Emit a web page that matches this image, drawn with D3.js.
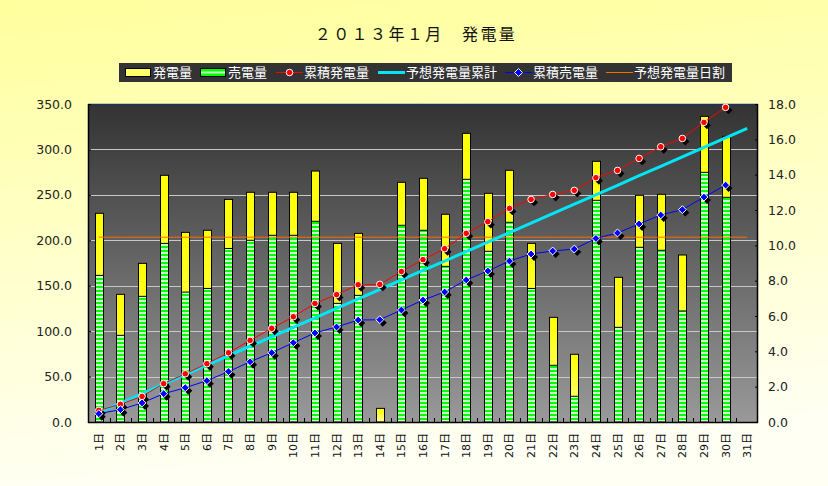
<!DOCTYPE html>
<html>
<head>
<meta charset="utf-8">
<script src="https://cdn.jsdelivr.net/npm/d3@7"></script>
<style>
  body { margin: 0; }
  svg { display: block; }
</style>
</head>
<body>
<div id="chart"></div>
<script>
// day labels
var days = ["1日","2日","3日","4日","5日","6日","7日","8日","9日","10日",
            "11日","12日","13日","14日","15日","16日","17日","18日","19日","20日",
            "21日","22日","23日","24日","25日","26日","27日","28日","29日","30日","31日"];

// 発電量 (left axis)
var generation = [229.7, 140.5, 174.6, 271.5, 208.7, 211.0, 245.0, 252.8, 252.8, 252.8,
                  276.2, 196.6, 207.6, 15.0, 263.8, 268.2, 228.6, 317.7, 251.7, 277.0,
                  196.6, 115.2, 74.5, 286.9, 159.2, 249.5, 250.6, 183.8, 336.4, 314.4, null];

// 売電量 (left axis)
var sold = [161.4, 95.4, 138.3, 196.6, 143.0, 147.0, 191.0, 200.0, 205.5, 205.5,
            220.9, 130.6, 139.4, 0, 216.5, 211.0, 171.3, 267.1, 187.9, 219.8,
            147.0, 62.4, 28.3, 244.0, 104.2, 192.3, 189.0, 122.2, 274.8, 247.3, null];

// 累積発電量 (right axis)
var cumGeneration = [0.66, 1.00, 1.45, 2.17, 2.73, 3.30, 3.92, 4.62, 5.30, 5.96,
                     6.71, 7.21, 7.77, 7.79, 8.52, 9.19, 9.81, 10.68, 11.34, 12.09,
                     12.60, 12.88, 13.11, 13.83, 14.24, 14.92, 15.58, 16.05, 16.96, 17.81, null];

// 累積売電量 (right axis)
var cumSold = [0.47, 0.70, 1.08, 1.60, 1.94, 2.34, 2.85, 3.41, 3.92, 4.49,
               5.04, 5.38, 5.77, 5.79, 6.34, 6.90, 7.36, 8.04, 8.55, 9.11,
               9.51, 9.68, 9.79, 10.39, 10.70, 11.21, 11.72, 12.02, 12.73, 13.41, null];

// 予想発電量累計 (right axis)
var expectedCum = [0.54, 1.07, 1.61, 2.14, 2.68, 3.22, 3.75, 4.29, 4.82, 5.36,
                   5.90, 6.43, 6.97, 7.50, 8.04, 8.58, 9.11, 9.65, 10.18, 10.72,
                   11.26, 11.79, 12.33, 12.86, 13.40, 13.94, 14.47, 15.01, 15.54, 16.08, 16.62];

// 予想発電量日割 (left axis)
var expectedDaily = [203.4, 203.4, 203.4, 203.4, 203.4, 203.4, 203.4, 203.4, 203.4, 203.4,
                     203.4, 203.4, 203.4, 203.4, 203.4, 203.4, 203.4, 203.4, 203.4, 203.4,
                     203.4, 203.4, 203.4, 203.4, 203.4, 203.4, 203.4, 203.4, 203.4, 203.4, 203.4];

var leftTicks = [0, 50, 100, 150, 200, 250, 300, 350];
var rightTicks = [0, 2, 4, 6, 8, 10, 12, 14, 16, 18];

var legendNames = ["発電量", "売電量", "累積発電量", "予想発電量累計", "累積売電量", "予想発電量日割"];

function init(){
    var w = 828, h = 486;
    var plot = {left: 88, right: 758, top: 104, bottom: 422};

    var svg = d3.select("#chart").append("svg")
        .attr("width", w)
        .attr("height", h);

    var defs = svg.append("defs");

    // page background
    var bg = defs.append("linearGradient").attr("id", "bgGrad")
        .attr("x1", 0).attr("y1", 0).attr("x2", 0.15).attr("y2", 1);
    bg.append("stop").attr("offset", "0%").attr("stop-color", "#ffff9c");
    bg.append("stop").attr("offset", "100%").attr("stop-color", "#fffff4");

    // plot background
    var pg = defs.append("linearGradient").attr("id", "plotGrad")
        .attr("x1", 0).attr("y1", 0).attr("x2", 0).attr("y2", 1);
    pg.append("stop").attr("offset", "0%").attr("stop-color", "#333333");
    pg.append("stop").attr("offset", "100%").attr("stop-color", "#999999");

    // yellow bars
    var yg = defs.append("linearGradient").attr("id", "yellowGrad")
        .attr("x1", 0).attr("y1", 0).attr("x2", 0).attr("y2", 1);
    yg.append("stop").attr("offset", "0%").attr("stop-color", "#ffff00");
    yg.append("stop").attr("offset", "100%").attr("stop-color", "#ffff99");

    // green striped bars
    var stripe = defs.append("pattern").attr("id", "greenStripe")
        .attr("patternUnits", "userSpaceOnUse")
        .attr("width", 8).attr("height", 4)
        .attr("y", plot.bottom);
    stripe.append("rect").attr("width", 8).attr("height", 4).attr("fill", "#00ff00");
    stripe.append("rect").attr("y", 2).attr("width", 8).attr("height", 2).attr("fill", "#ccffcc");

    svg.append("rect")
        .attr("width", w).attr("height", h)
        .attr("fill", "url(#bgGrad)");

    // scales
    var xScale = d3.scaleBand()
        .domain(days)
        .range([plot.left, plot.right]);

    var yLeft = d3.scaleLinear()
        .domain([0, 350])
        .range([plot.bottom, plot.top]);

    var yRight = d3.scaleLinear()
        .domain([0, 18])
        .range([plot.bottom, plot.top]);

    var cx = function(d, i){ return xScale(days[i]) + xScale.bandwidth() / 2; };

    // plot area
    svg.append("rect")
        .attr("x", plot.left).attr("y", plot.top)
        .attr("width", plot.right - plot.left)
        .attr("height", plot.bottom - plot.top)
        .attr("fill", "url(#plotGrad)");

    svg.append("line")
        .attr("x1", plot.left).attr("x2", plot.right)
        .attr("y1", plot.top + 0.5).attr("y2", plot.top + 0.5)
        .attr("stroke", "#1c3557").attr("stroke-width", 1.5);

    // gridlines
    svg.append("g").selectAll("line")
        .data(leftTicks.slice(1, -1))
        .enter().append("line")
        .attr("x1", plot.left).attr("x2", plot.right)
        .attr("y1", function(d){ return Math.round(yLeft(d)) + 0.5; })
        .attr("y2", function(d){ return Math.round(yLeft(d)) + 0.5; })
        .attr("stroke", "#c8c8c8")
        .attr("stroke-width", 1);

    // bars
    var barW = 8;
    var genIdx = generation.map(function(d, i){ return i; }).filter(function(i){ return generation[i] != null; });
    var soldIdx = sold.map(function(d, i){ return i; }).filter(function(i){ return sold[i]; });

    svg.append("g").selectAll("rect")
        .data(genIdx)
        .enter().append("rect")
        .attr("x", function(i){ return Math.round(cx(null, i) - barW / 2) + 0.5; })
        .attr("y", function(i){ return yLeft(generation[i]); })
        .attr("width", barW)
        .attr("height", function(i){ return yLeft(0) - yLeft(generation[i]); })
        .attr("fill", "url(#yellowGrad)")
        .attr("stroke", "#000")
        .attr("stroke-width", 1);

    svg.append("g").selectAll("rect")
        .data(soldIdx)
        .enter().append("rect")
        .attr("x", function(i){ return Math.round(cx(null, i) - barW / 2) + 0.5; })
        .attr("y", function(i){ return yLeft(sold[i]); })
        .attr("width", barW)
        .attr("height", function(i){ return yLeft(0) - yLeft(sold[i]); })
        .attr("fill", "url(#greenStripe)")
        .attr("stroke", "#000")
        .attr("stroke-width", 1);

    // lines
    var lineOf = function(scale){
        return d3.line()
            .defined(function(d){ return d != null; })
            .x(cx)
            .y(function(d){ return scale(d); });
    };

    svg.append("path")
        .datum(expectedDaily)
        .attr("d", lineOf(yLeft))
        .attr("fill", "none")
        .attr("stroke", "#ff6a00")
        .attr("stroke-width", 1);

    svg.append("path")
        .datum(expectedCum)
        .attr("d", lineOf(yRight))
        .attr("fill", "none")
        .attr("stroke", "#00e6f6")
        .attr("stroke-width", 3);

    svg.append("path")
        .datum(cumGeneration)
        .attr("d", lineOf(yRight))
        .attr("fill", "none")
        .attr("stroke", "#ff0000")
        .attr("stroke-width", 1);

    svg.append("path")
        .datum(cumSold)
        .attr("d", lineOf(yRight))
        .attr("fill", "none")
        .attr("stroke", "#0000ff")
        .attr("stroke-width", 1);

    // markers with drop shadow
    var diamond = d3.symbol().type(d3.symbolDiamond2).size(40);
    var circle = d3.symbol().type(d3.symbolCircle).size(34);

    function markers(data, sym, color){
        var pts = data.map(function(d, i){ return i; }).filter(function(i){ return data[i] != null; });
        var g = svg.append("g");
        g.selectAll(".shadow")
            .data(pts)
            .enter().append("path")
            .attr("class", "shadow")
            .attr("d", diamond)
            .attr("transform", function(i){ return "translate(" + (cx(null, i) + 3) + "," + (yRight(data[i]) + 3) + ")"; })
            .attr("fill", "#000");
        g.selectAll(".mark")
            .data(pts)
            .enter().append("path")
            .attr("class", "mark")
            .attr("d", sym)
            .attr("transform", function(i){ return "translate(" + cx(null, i) + "," + yRight(data[i]) + ")"; })
            .attr("fill", color)
            .attr("stroke", "#fff")
            .attr("stroke-width", 1);
    }
    markers(cumGeneration, circle, "#ff0000");
    markers(cumSold, diamond, "#0000ff");

    // axes lines
    svg.append("line")
        .attr("x1", plot.left + 0.5).attr("x2", plot.left + 0.5)
        .attr("y1", plot.top).attr("y2", plot.bottom + 1)
        .attr("stroke", "#000").attr("stroke-width", 1.5);
    svg.append("line")
        .attr("x1", plot.right - 0.5).attr("x2", plot.right - 0.5)
        .attr("y1", plot.top).attr("y2", plot.bottom + 1)
        .attr("stroke", "#000").attr("stroke-width", 1.5);
    svg.append("line")
        .attr("x1", plot.left).attr("x2", plot.right)
        .attr("y1", plot.bottom + 0.5).attr("y2", plot.bottom + 0.5)
        .attr("stroke", "#000").attr("stroke-width", 1.5);

    // left axis
    var leftAxis = d3.axisLeft(yLeft)
        .tickValues(leftTicks)
        .tickFormat(d3.format(".1f"))
        .tickSize(-3)
        .tickPadding(16);
    var gl = svg.append("g")
        .attr("transform", "translate(" + plot.left + ",0)")
        .call(leftAxis);
    gl.select(".domain").remove();

    // right axis
    var rightAxis = d3.axisRight(yRight)
        .tickValues(rightTicks)
        .tickFormat(d3.format(".1f"))
        .tickSize(-3)
        .tickPadding(10);
    var gr = svg.append("g")
        .attr("transform", "translate(" + plot.right + ",0)")
        .call(rightAxis);
    gr.select(".domain").remove();

    [gl, gr].forEach(function(g){
        g.selectAll("text")
            .attr("font-family", "DejaVu Sans, sans-serif")
            .attr("font-size", "12.5px")
            .attr("fill", "#222");
        g.selectAll("line").attr("stroke", "#000");
    });

    // x ticks at band edges
    svg.append("g").selectAll("line")
        .data(days.slice(1))
        .enter().append("line")
        .attr("x1", function(d){ return Math.round(xScale(d)) + 0.5; })
        .attr("x2", function(d){ return Math.round(xScale(d)) + 0.5; })
        .attr("y1", plot.bottom)
        .attr("y2", plot.bottom - 4)
        .attr("stroke", "#000");

    // x labels, rotated
    svg.append("g").selectAll("text")
        .data(days)
        .enter().append("text")
        .attr("transform", function(d){
            return "translate(" + (xScale(d) + xScale.bandwidth() / 2 + 4) + "," + 433 + ") rotate(-90)";
        })
        .attr("text-anchor", "end")
        .attr("font-family", "DejaVu Sans, Noto Sans CJK JP, sans-serif")
        .attr("font-size", "11px")
        .attr("fill", "#111")
        .text(function(d){ return d; });

    // title
    svg.append("text")
        .attr("x", 416)
        .attr("y", 40)
        .attr("text-anchor", "middle")
        .attr("font-family", "Noto Sans CJK JP, sans-serif")
        .attr("font-size", "16px")
        .attr("letter-spacing", "2.4px")
        .attr("fill", "#111")
        .text("２０１３年１月　発電量");

    // legend
    var lg = svg.append("g");
    lg.append("rect")
        .attr("x", 119).attr("y", 63)
        .attr("width", 613).attr("height", 19)
        .attr("fill", "#333333");

    var legendPos = [125, 200, 276, 378, 505, 606];
    var ly = 72.5;
    legendNames.forEach(function(name, i){
        var x0 = legendPos[i];
        if (i === 0) {
            lg.append("rect").attr("x", x0 + 0.5).attr("y", ly - 4).attr("width", 25).attr("height", 8)
                .attr("fill", "#ffff66").attr("stroke", "#000");
        } else if (i === 1) {
            lg.append("rect").attr("x", x0 + 0.5).attr("y", ly - 4).attr("width", 25).attr("height", 8)
                .attr("fill", "#00ff00").attr("stroke", "#000");
            lg.append("line").attr("x1", x0 + 1).attr("x2", x0 + 25).attr("y1", ly).attr("y2", ly)
                .attr("stroke", "#ccffcc").attr("stroke-width", 2);
        } else {
            var col = ["", "", "#ff0000", "#00e6f6", "#0000ff", "#ff6a00"][i];
            lg.append("line").attr("x1", x0).attr("x2", x0 + 27).attr("y1", ly).attr("y2", ly)
                .attr("stroke", col).attr("stroke-width", i === 3 ? 3 : 1);
            if (i === 2) {
                lg.append("path").attr("d", circle).attr("transform", "translate(" + (x0 + 13.5) + "," + ly + ")")
                    .attr("fill", "#ff0000").attr("stroke", "#fff");
            }
            if (i === 4) {
                lg.append("path").attr("d", diamond).attr("transform", "translate(" + (x0 + 13.5) + "," + ly + ")")
                    .attr("fill", "#0000ff").attr("stroke", "#fff");
            }
        }
        lg.append("text")
            .attr("x", x0 + 28)
            .attr("y", ly + 4.5)
            .attr("font-family", "Noto Sans CJK JP, sans-serif")
            .attr("font-size", "13px")
            .attr("fill", "#fff")
            .text(name);
    });
}

window.onload = init;
</script>
</body>
</html>
